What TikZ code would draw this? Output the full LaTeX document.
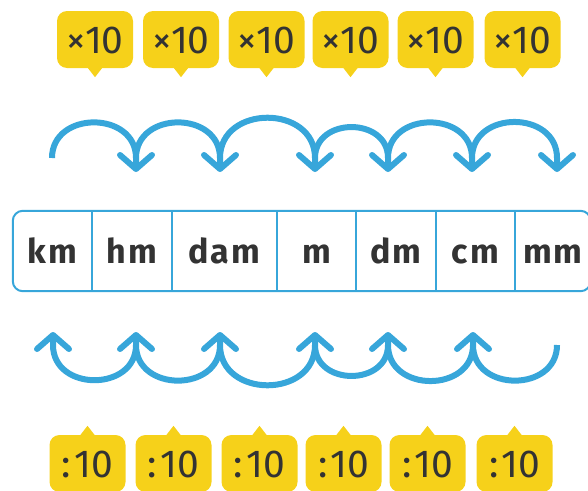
\documentclass[tikz,border=0pt]{standalone}
\usepackage{fontspec}
\setmainfont{Fira Sans}
\usetikzlibrary{arrows.meta, positioning}
\definecolor{hopblue}{HTML}{37A6DA}
\definecolor{tagyellow}{HTML}{F6D11A}
\definecolor{ink}{HTML}{333333}

\begin{document}
\begin{tikzpicture}[x=1pt, y=-1pt, node distance=0pt,
  cell/.style={minimum width=79pt, minimum height=80pt, inner sep=0pt, text height=24pt, text depth=0pt, text=ink, font=\fontsize{34}{34}\selectfont\bfseries\addfontfeature{LetterSpace=6}},
  tag/.style={fill=tagyellow, rounded corners=10pt, minimum width=76pt, minimum height=57pt, inner sep=0pt, text height=27pt, text depth=0pt, text=ink, font=\fontsize{39}{39}\selectfont},
  hop/.style={hopblue, line width=6pt},
  hoptip/.style={hop, -{Straight Barb[length=14pt,width=32pt,round]}}]
\useasboundingbox (0,0) rectangle (588,490);
\clip (0,0) rectangle (588,490);

% units row
\node [cell] (km) at (52.5,251) {km};
\node [cell, right=of km] (hm) {hm};
\node [cell, right=of hm, minimum width=105pt] (dam) {dam};
\node [cell, right=of dam] (m) {m};
\node [cell, right=of m] (dm) {dm};
\node [cell, right=of dm] (cm) {cm};
\node [cell, right=of cm, minimum width=75pt] (mm) {mm};

\draw [hopblue, line width=2pt, rounded corners=10pt] (km.north west) rectangle (mm.south east);
\draw [hopblue, line width=2pt] (km.north east) -- (km.south east);
\draw [hopblue, line width=2pt] (hm.north east) -- (hm.south east);
\draw [hopblue, line width=2pt] (dam.north east) -- (dam.south east);
\draw [hopblue, line width=2pt] (m.north east) -- (m.south east);
\draw [hopblue, line width=2pt] (dm.north east) -- (dm.south east);
\draw [hopblue, line width=2pt] (cm.north east) -- (cm.south east);

% multiply tags
\node [tag] (x1) at (95,39.5) {×10};
\node [tag] (x2) at (181,39.5) {×10};
\node [tag] (x3) at (266.5,39.5) {×10};
\node [tag] (x4) at (350.5,39.5) {×10};
\node [tag] (x5) at (435.5,39.5) {×10};
\node [tag] (x6) at (522.5,39.5) {×10};
\fill [tagyellow] ([xshift=-7pt]x1.south) -- ([xshift=7pt]x1.south) -- ([yshift=-9pt]x1.south) -- cycle;
\fill [tagyellow] ([xshift=-7pt]x2.south) -- ([xshift=7pt]x2.south) -- ([yshift=-9pt]x2.south) -- cycle;
\fill [tagyellow] ([xshift=-7pt]x3.south) -- ([xshift=7pt]x3.south) -- ([yshift=-9pt]x3.south) -- cycle;
\fill [tagyellow] ([xshift=-7pt]x4.south) -- ([xshift=7pt]x4.south) -- ([yshift=-9pt]x4.south) -- cycle;
\fill [tagyellow] ([xshift=-7pt]x5.south) -- ([xshift=7pt]x5.south) -- ([yshift=-9pt]x5.south) -- cycle;
\fill [tagyellow] ([xshift=-7pt]x6.south) -- ([xshift=7pt]x6.south) -- ([yshift=-9pt]x6.south) -- cycle;

% divide tags
\node [tag] (d1) at (87.5,463.5) {:\kern3pt10};
\node [tag] (d2) at (173.5,463.5) {:\kern3pt10};
\node [tag] (d3) at (259.5,463.5) {:\kern3pt10};
\node [tag] (d4) at (343.5,463.5) {:\kern3pt10};
\node [tag] (d5) at (427.5,463.5) {:\kern3pt10};
\node [tag] (d6) at (514.5,463.5) {:\kern3pt10};
\fill [tagyellow] ([xshift=-7pt]d1.north) -- ([xshift=7pt]d1.north) -- ([yshift=9pt]d1.north) -- cycle;
\fill [tagyellow] ([xshift=-7pt]d2.north) -- ([xshift=7pt]d2.north) -- ([yshift=9pt]d2.north) -- cycle;
\fill [tagyellow] ([xshift=-7pt]d3.north) -- ([xshift=7pt]d3.north) -- ([yshift=9pt]d3.north) -- cycle;
\fill [tagyellow] ([xshift=-7pt]d4.north) -- ([xshift=7pt]d4.north) -- ([yshift=9pt]d4.north) -- cycle;
\fill [tagyellow] ([xshift=-7pt]d5.north) -- ([xshift=7pt]d5.north) -- ([yshift=9pt]d5.north) -- cycle;
\fill [tagyellow] ([xshift=-7pt]d6.north) -- ([xshift=7pt]d6.north) -- ([yshift=9pt]d6.north) -- cycle;

% hop ends
\coordinate (t0) at (52,158);
\coordinate (t1) at (136,158);
\coordinate (t2) at (220,158);
\coordinate (t3) at (315,158);
\coordinate (t4) at (388,158);
\coordinate (t5) at (472,158);
\coordinate (t6) at (557,158);
\coordinate (b0) at (53,345);
\coordinate (b1) at (136,345);
\coordinate (b2) at (220,345);
\coordinate (b3) at (315,345);
\coordinate (b4) at (388,345);
\coordinate (b5) at (473,345);
\coordinate (b6) at (557,345);

% hops to the right
\draw [hoptip] (t0) to [out=90, in=90, looseness=1.45] (t1) -- ++(0,14);
\draw [hoptip] (t1) to [out=90, in=90, looseness=1.45] (t2) -- ++(0,14);
\draw [hoptip] (t2) to [out=90, in=90, looseness=1.45] (t3) -- ++(0,14);
\draw [hoptip] (t3) to [out=90, in=90, looseness=1.45] (t4) -- ++(0,14);
\draw [hoptip] (t4) to [out=90, in=90, looseness=1.45] (t5) -- ++(0,14);
\draw [hoptip] (t5) to [out=90, in=90, looseness=1.45] (t6) -- ++(0,14);

% hops to the left
\draw [hoptip] (b6) to [out=-90, in=-90, looseness=1.45] (b5) -- ++(0,-13);
\draw [hoptip] (b5) to [out=-90, in=-90, looseness=1.45] (b4) -- ++(0,-13);
\draw [hoptip] (b4) to [out=-90, in=-90, looseness=1.45] (b3) -- ++(0,-13);
\draw [hoptip] (b3) to [out=-90, in=-90, looseness=1.45] (b2) -- ++(0,-13);
\draw [hoptip] (b2) to [out=-90, in=-90, looseness=1.45] (b1) -- ++(0,-13);
\draw [hoptip] (b1) to [out=-90, in=-90, looseness=1.45] (b0) -- ++(0,-13);
\end{tikzpicture}
\end{document}
